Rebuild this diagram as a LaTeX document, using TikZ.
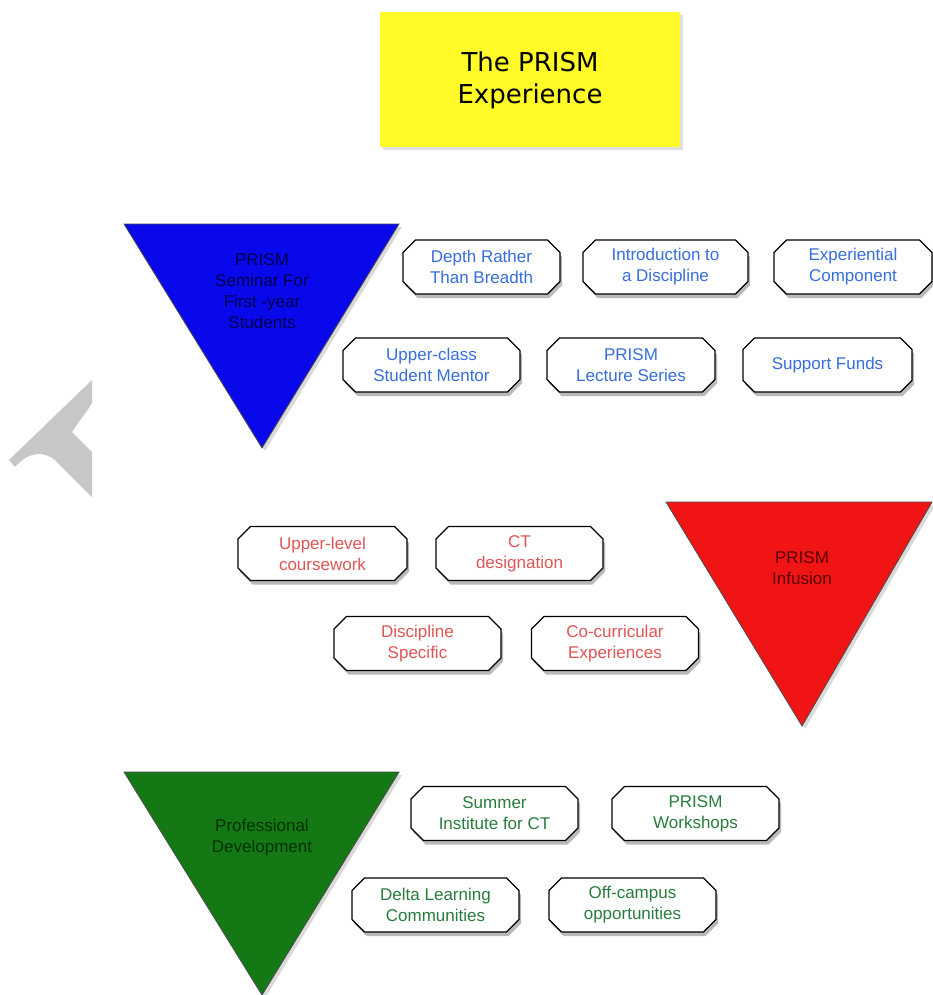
\documentclass[tikz,border=0pt]{standalone}
\usepackage{fontspec}
\setmainfont{Liberation Sans}
\newfontfamily\titlefont{DejaVu Sans}
\usetikzlibrary{shapes.misc,shadows}

\definecolor{prismyellow}{RGB}{255,250,40}
\definecolor{prismblue}{RGB}{8,8,235}
\definecolor{prismred}{RGB}{240,20,20}
\definecolor{prismgreen}{RGB}{20,120,20}
\definecolor{txtblue}{RGB}{55,110,220}
\definecolor{txtred}{RGB}{225,85,85}
\definecolor{txtgreen}{RGB}{40,125,60}

\tikzstyle{titre} = [rectangle, fill=prismyellow, text centered, align=center, minimum width=300pt, minimum height=135pt, font=\titlefont\fontsize{26}{32}\selectfont, drop shadow={shadow xshift=3pt, shadow yshift=-3pt, opacity=0.25}]
\tikzstyle{item} = [chamfered rectangle, chamfered rectangle xsep=9pt, draw, line width=1.2pt, fill=white, text centered, align=center, minimum width=167pt, minimum height=54pt, inner sep=0pt, font=\fontsize{17}{21}\selectfont, drop shadow={shadow xshift=2pt, shadow yshift=-4pt, opacity=0.55}]
\tikzstyle{item1} = [item, text=txtblue]
\tikzstyle{item2} = [item, text=txtred]
\tikzstyle{item3} = [item, text=txtgreen]
\tikzstyle{prisme} = [draw=black!70, line width=0.8pt, drop shadow={shadow xshift=3pt, shadow yshift=-3pt, opacity=0.3}]
\tikzstyle{nomprisme} = [text centered, align=center, font=\fontsize{17}{21}\selectfont]

\begin{document}
\begin{tikzpicture}[x=1pt, y=-1pt]

    \useasboundingbox (0,0) rectangle (932,995);

    %  title
    \node [titre] (P) at (530,80) {The PRISM\\Experience};

    % arrow piece on the left
    \fill[black!22] (92,380) -- (9,460) -- (15,467) .. controls (30,450) and (45,452) .. (55,460) -- (92,497) -- (92,452) -- (72,432) .. controls (80,420) and (88,410) .. (92,403) -- cycle;

   %-------------------------------------------------------------
    \filldraw[prisme, fill=prismblue] (124,224) -- (399,224) -- (262,448) -- cycle;
    \node[nomprisme, text=blue!30!black] (S) at (262,291) {PRISM\\Seminar For\\First -year\\Students};

    \node[item1, minimum width=157pt] (depth) at (481.5,267) {Depth Rather\\Than Breadth};
    \node[item1, minimum width=165pt] (intro) at (665.5,267) {Introduction to\\a Discipline};
    \node[item1, minimum width=158pt] (exper) at (853,267) {Experiential\\Component};

    \node[item1, minimum width=177pt] (mentor) at (431.5,365) {Upper-class\\Student Mentor};
    \node[item1, minimum width=168pt] (lecture) at (631,365) {PRISM\\Lecture Series};
    \node[item1, minimum width=169pt] (funds) at (827.5,365) {Support Funds};

   %-------------------------------------------------------------
    \filldraw[prisme, fill=prismred] (666,502) -- (932,502) -- (802,726) -- cycle;
    \node[nomprisme, text=red!35!black] (I) at (802,568) {PRISM\\Infusion};

    \node[item2, minimum width=169pt] (upper) at (322.5,553.5) {Upper-level\\coursework};
    \node[item2] (ct) at (519.5,553.5) {CT\\designation};

    \node[item2] (disc) at (417.5,643.5) {Discipline\\Specific};
    \node[item2] (cocur) at (615,643.5) {Co-curricular\\Experiences};

   %-------------------------------------------------------------
    \filldraw[prisme, fill=prismgreen] (124,772) -- (399,772) -- (262,995) -- cycle;
    \node[nomprisme, text=green!20!black] (D) at (262,838) {Professional\\Development};

    \node[item3] (summer) at (494.5,813.5) {Summer\\Institute for CT};
    \node[item3] (work) at (695.5,813.5) {PRISM\\Workshops};

    \node[item3] (delta) at (435.5,905) {Delta Learning\\Communities};
    \node[item3] (off) at (632.5,905) {Off-campus\\opportunities};

  \end{tikzpicture}
\end{document}
